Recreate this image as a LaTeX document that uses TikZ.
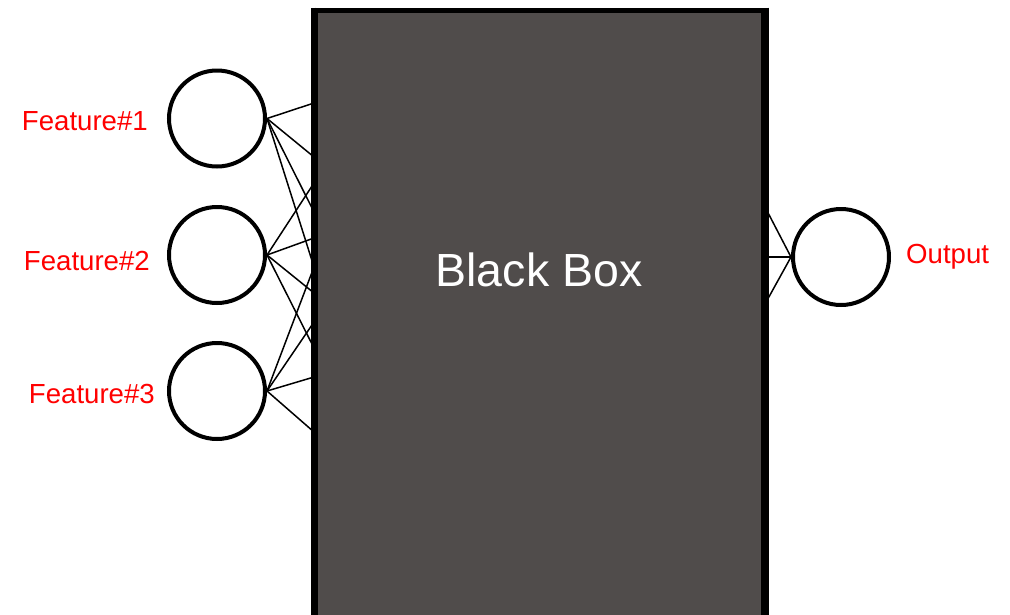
\documentclass[tikz,border=0pt]{standalone}
\usepackage{fontspec}
\setmainfont{Liberation Sans}
\begin{document}
\begin{tikzpicture}[x=1pt,y=-1pt,
  neuron/.style={circle,draw=black,line width=4pt,minimum size=96pt,inner sep=0pt,fill=white},
  blackbox/.style={rectangle,draw=black,line width=5pt,fill=boxgray,minimum width=448pt,minimum height=620pt,inner sep=0pt},
  link/.style={draw=black,line width=1.5pt},
  lbl/.style={text=red,font=\fontsize{27.6}{30}\selectfont,inner sep=0pt},
  boxlbl/.style={text=white,font=\fontsize{46.5}{50}\selectfont,inner sep=0pt}]
\definecolor{boxgray}{RGB}{80,76,75}
\useasboundingbox (0,0) rectangle (1010,614);
\clip (0,0) rectangle (1010,614);
% box
\node[blackbox] (box) at (539.5,320) {};
% input neurons
\node[neuron] (c1) at (217,118.5) {};
\node[neuron] (c2) at (217,255) {};
\node[neuron] (c3) at (217,391) {};
\node[neuron] (out) at (841,257) {};
% targets on box left edge
\foreach \n/\y in {a/103,b/157,c/212,d/267,e/183,f/238,g/293,h/348,i/322,j/377,k/432}
  \coordinate (t\n) at (314,\y);
% targets on box right edge
\coordinate (r1) at (765,207);
\coordinate (r2) at (765,257);
\coordinate (r3) at (765,304);
% connectors
\foreach \t in {a,b,c,d} \draw[link] (c1.east) -- (t\t);
\foreach \t in {e,f,g,h} \draw[link] (c2.east) -- (t\t);
\foreach \t in {d,i,j,k} \draw[link] (c3.east) -- (t\t);
\foreach \r in {r1,r2,r3} \draw[link] (\r) -- (out.west);
% redraw box edges on top of line ends
\draw[line width=5pt] (box.north west) -- (box.south west);
\draw[line width=5pt] (box.north east) -- (box.south east);
% labels
\node[lbl,anchor=base east] (l1) at (148,130) {Feature\#1};
\node[lbl,anchor=base east] (l2) at (150,270) {Feature\#2};
\node[lbl,anchor=base east] (l3) at (155,403) {Feature\#3};
\node[lbl,anchor=base west] (lo) at (906,263) {Output};
\node[boxlbl,anchor=base] (bl) at (539,286) {Black Box};
\end{tikzpicture}
\end{document}
